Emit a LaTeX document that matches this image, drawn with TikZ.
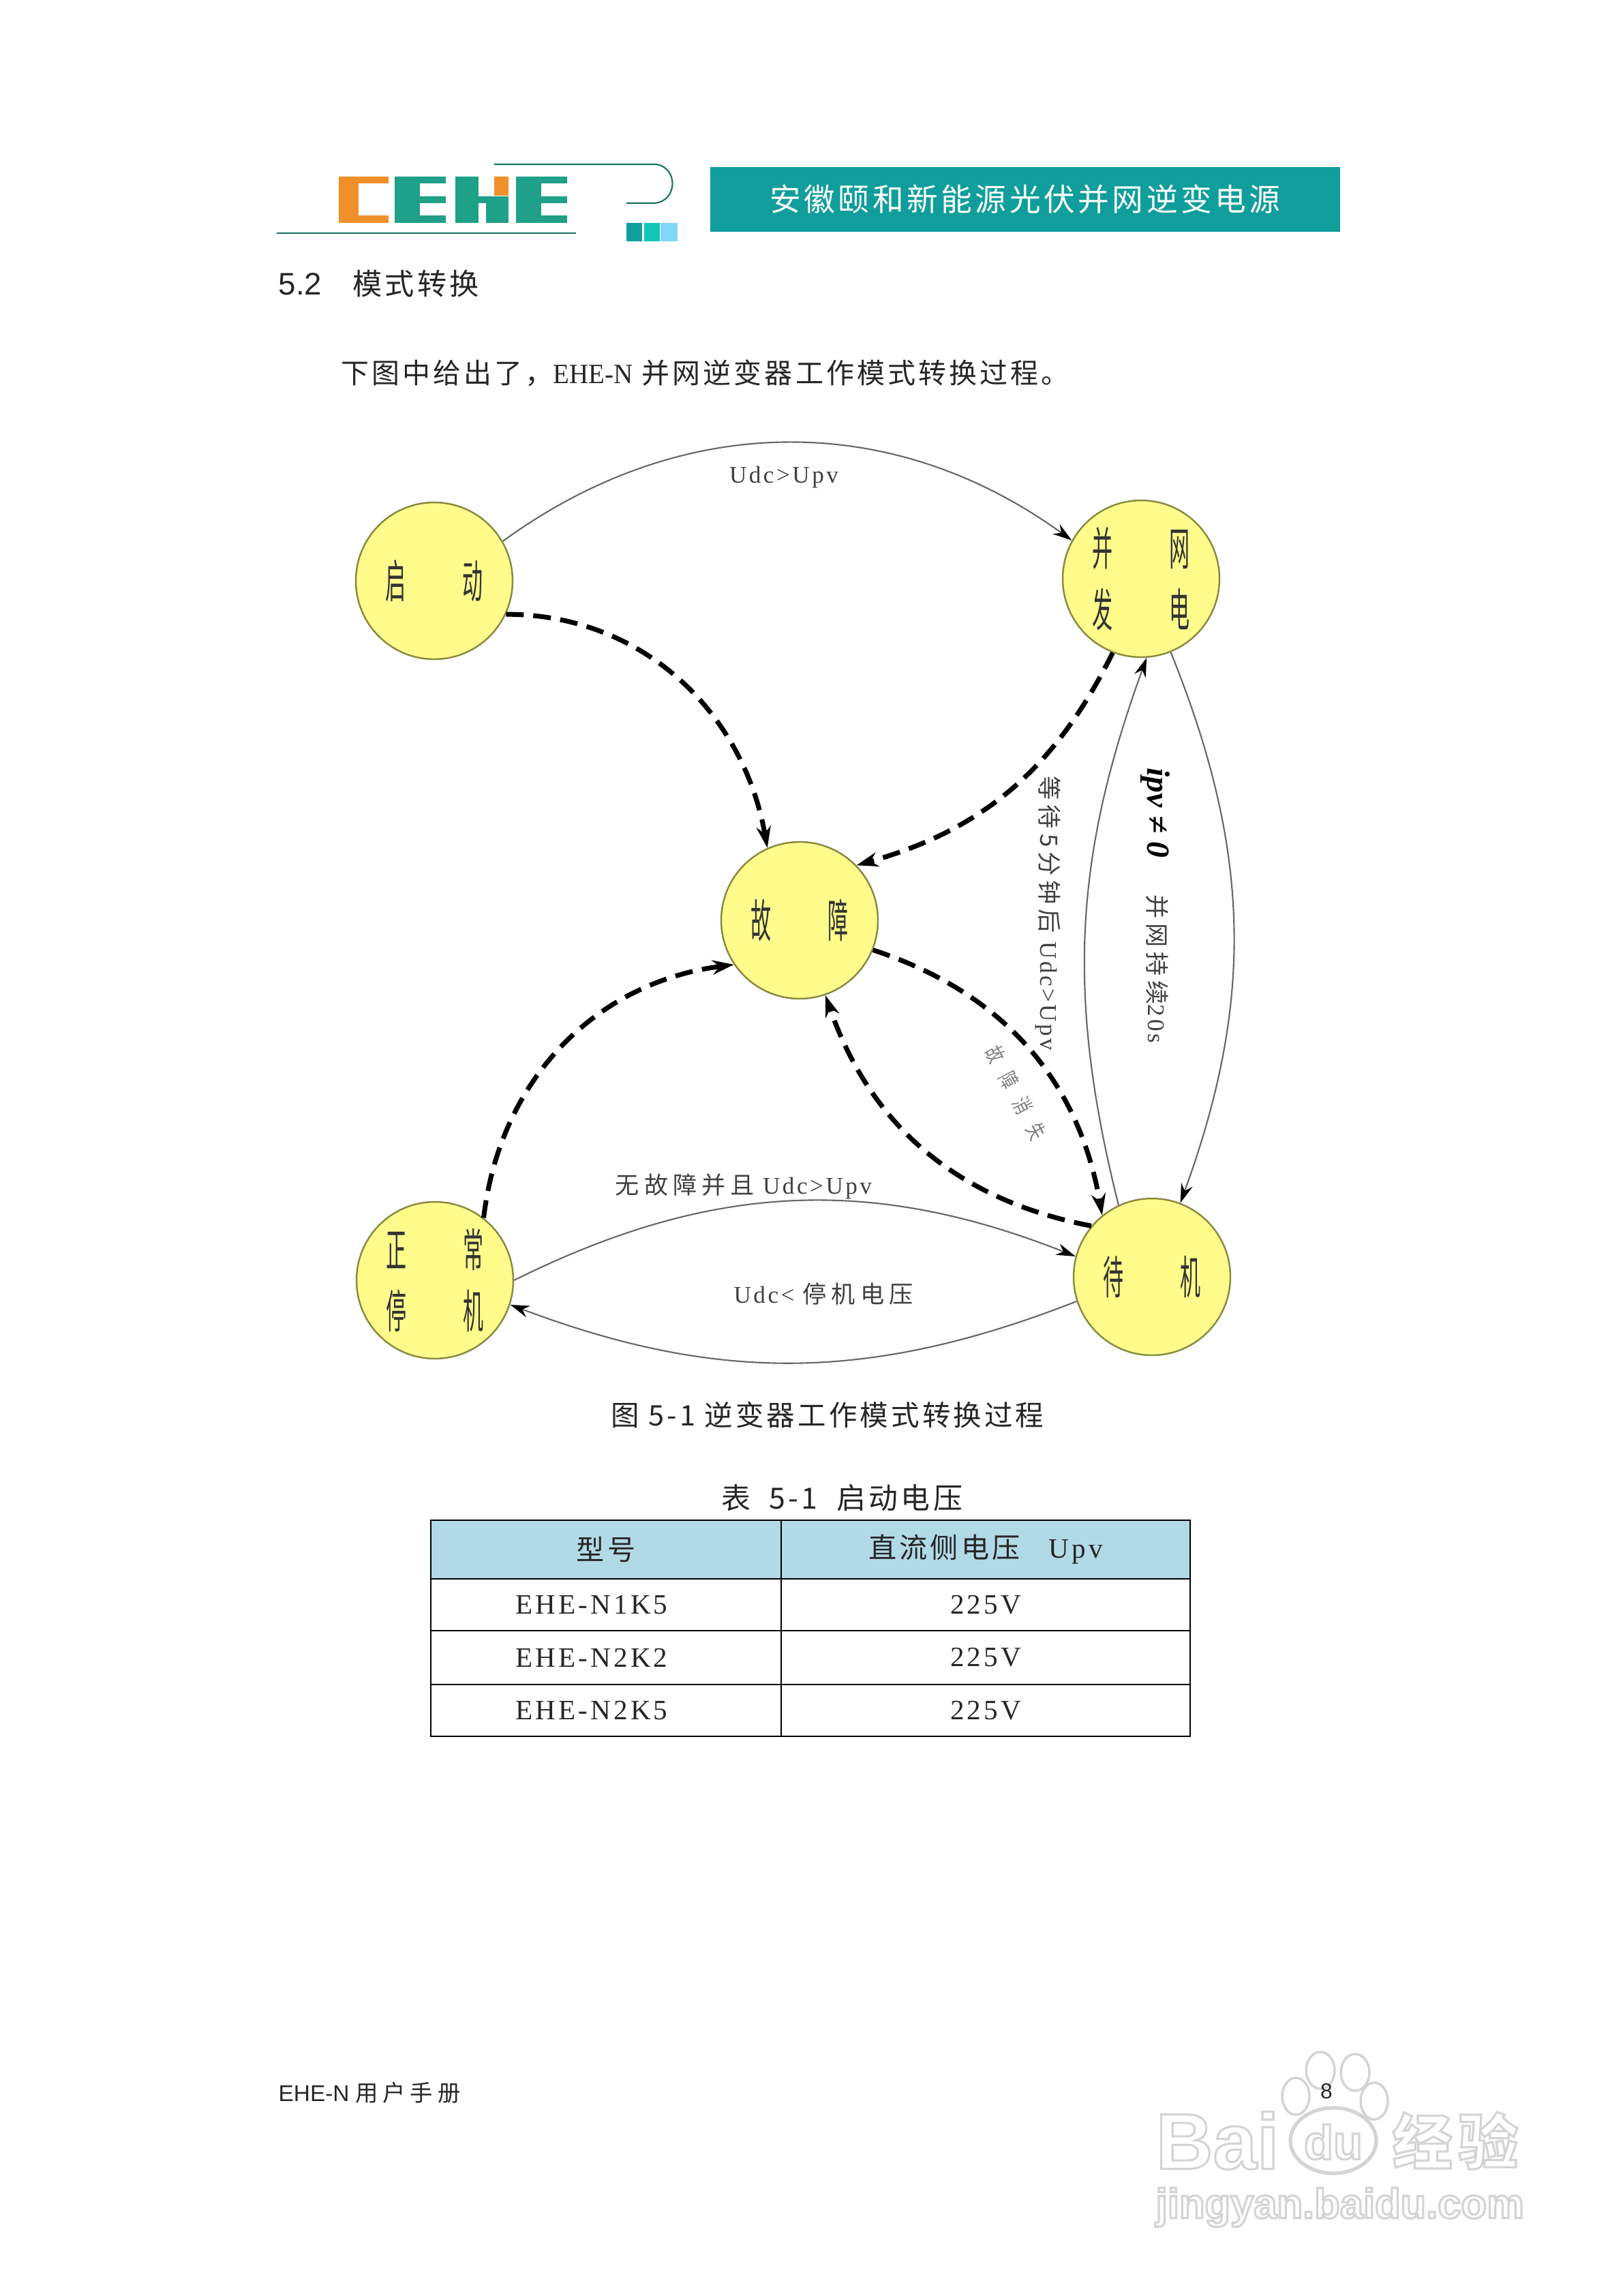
\documentclass[tikz,border=0pt]{standalone}
\usepackage{fontspec}
\usepackage{graphicx}
\usetikzlibrary{arrows.meta}
\setmainfont{Liberation Serif}
\setsansfont{Liberation Sans}
\newfontfamily\cjk[LetterSpace=10]{Noto Sans CJK SC}
\newfontfamily\cjkw[LetterSpace=20]{Noto Sans CJK SC}
\newfontfamily\lat[LetterSpace=10]{Liberation Serif}
\definecolor{bannerteal}{HTML}{0F9E9C}
\definecolor{logoorange}{HTML}{F0902A}
\definecolor{logoteal}{HTML}{1FA088}
\definecolor{statefill}{HTML}{FFFC8C}
\definecolor{stateedge}{HTML}{8A8A40}
\definecolor{headfill}{HTML}{B2D9E6}
\definecolor{markgray}{HTML}{D4D4D4}
\newcommand{\statetext}[2]{\scalebox{.45}[1]{\cjk #1\hspace{52pt}#2}}
\newcommand{\outlinetext}[1]{\special{pdf:literal direct 1 Tr 0.9 w}#1\special{pdf:literal direct 0 Tr}}
\begin{document}
\begin{tikzpicture}[
statenode/.style={circle, draw=stateedge, fill=statefill, line width=0.7pt, minimum size=23cm/10, inner sep=0pt, align=center, text=black!80, font=\fontsize{19}{25.6}\selectfont},
flowline/.style={draw=black!60, line width=0.6pt, -{Stealth[length=8pt,width=5pt,black]}},
faultline/.style={draw=black, line width=2pt, dash pattern=on 2.6mm off 1.4mm, -{Stealth[length=9pt,width=6pt]}},
flowtext/.style={inner sep=0pt, text=black!75, font=\fontsize{10}{10}\selectfont},
pagetext/.style={inner sep=0pt, text=black!85, font=\fontsize{11.8}{12}\selectfont},
cellnode/.style={rectangle, draw=black, line width=0.8pt, inner sep=0pt, text=black!85, font=\fontsize{11.7}{12}\selectfont},
marktext/.style={inner sep=0pt, text=markgray, font=\bfseries\sffamily},
]
\useasboundingbox (0,0) rectangle (23.81,-33.68);
% header
\fill[logoorange] (4.97,-2.59) rectangle (5.26,-3.27);
\fill[logoorange] (4.97,-2.59) rectangle (5.70,-2.69);
\fill[logoorange] (4.97,-3.16) rectangle (5.70,-3.27);
\fill[logoteal] (5.79,-2.59) rectangle (6.16,-3.27);
\fill[logoteal] (5.79,-2.59) rectangle (6.54,-2.69);
\fill[logoteal] (5.79,-2.88) rectangle (6.54,-2.98);
\fill[logoteal] (5.79,-3.16) rectangle (6.54,-3.27);
\fill[logoteal] (6.68,-2.59) rectangle (7.02,-3.27);
\fill[logoteal] (7.02,-2.88) rectangle (7.46,-2.98);
\fill[logoteal] (7.13,-2.98) rectangle (7.46,-3.27);
\fill[logoorange] (7.25,-2.59) rectangle (7.46,-2.87);
\fill[logoteal] (7.57,-2.59) rectangle (7.94,-3.27);
\fill[logoteal] (7.57,-2.59) rectangle (8.32,-2.69);
\fill[logoteal] (7.57,-2.88) rectangle (8.32,-2.98);
\fill[logoteal] (7.57,-3.16) rectangle (8.32,-3.27);
\draw[logoteal!70!black, line width=0.7pt] (4.06,-3.42) -- (8.45,-3.42);
\draw[logoteal!70!black, line width=0.6pt] (7.25,-2.41) -- (9.62,-2.41) .. controls (9.95,-2.45) and (9.95,-2.95) .. (9.60,-2.98) -- (9.19,-2.98);
\fill[bannerteal] (9.19,-3.27) rectangle (9.42,-3.54);
\fill[logoteal!60!cyan] (9.45,-3.27) rectangle (9.68,-3.54);
\fill[cyan!50] (9.69,-3.27) rectangle (9.94,-3.54);
\node[rectangle, fill=bannerteal, minimum width=9.24cm, minimum height=0.95cm, inner sep=0pt, text=white, font=\fontsize{13}{13}\selectfont] (banner) at (15.04,-2.925) {\cjk 安徽颐和新能源光伏并网逆变电源};
\node[pagetext, anchor=west, font=\fontsize{13}{13}\sffamily] (section) at (4.08,-4.16) {5.2\hspace{12.8pt}{\cjk\fontsize{12.3}{12.3}\selectfont 模式转换}};
\node[pagetext, anchor=west, font=\fontsize{11.65}{12}\selectfont] (intro) at (5.00,-5.47) {\cjk 下图中给出了，\rmfamily\scalebox{.95}[1]{EHE-N}\cjk\ 并网逆变器工作模式转换过程。};
% states
\node[statenode] (qidong) at (6.37,-8.52) {\statetext{启}{动}};
\node[statenode] (wang) at (16.74,-8.49) {\statetext{并}{网}\\\statetext{发}{电}};
\node[statenode] (guzhang) at (11.73,-13.50) {\statetext{故}{障}};
\node[statenode] (tingji) at (6.38,-18.78) {\statetext{正}{常}\\\statetext{停}{机}};
\node[statenode] (daiji) at (16.90,-18.73) {\statetext{待}{机}};
% transitions
\draw[flowline] (qidong.30) to[bend left=36] (wang.151);
\draw[faultline] (qidong.-25) to[out=0,in=100] (guzhang.114);
\draw[faultline] (wang.249) to[bend left=24] (guzhang.44);
\draw[faultline] (guzhang.-22) to[bend left=31] (daiji.129);
\draw[faultline] (daiji.140) to[bend left=30] (guzhang.-71);
\draw[faultline] (tingji.52) to[bend left=38] (guzhang.-146);
\draw[flowline] (tingji.0) to[bend left=24] (daiji.165);
\draw[flowline] (daiji.198) to[bend left=21] (tingji.-18);
\draw[flowline] (wang.-68) to[bend left=21] (daiji.69);
\draw[flowline] (daiji.115) to[bend left=17] (wang.-86);
% labels
\node[flowtext] (startlabel) at (11.50,-7.00) {\lat Udc>Upv};
\node[flowtext, rotate=-90] (waitlabel) at (15.38,-13.40) {\cjkw 等待5分钟后\lat\ Udc>Upv};
\node[flowtext, rotate=-90, text=black, font=\fontsize{13.5}{14}\bfseries\itshape] (currentlabel) at (16.95,-11.92) {ipv ≠ 0};
\node[flowtext, rotate=-90] (gridlabel) at (16.98,-14.21) {\cjkw 并网持续\lat 20s};
\node[flowtext, rotate=-62, text=black!50, font=\fontsize{9}{9}\selectfont] (clearlabel) at (14.90,-16.03) {\scalebox{.7}[1]{\cjk 故\hspace{8.4pt}障\hspace{8.4pt}消\hspace{8.4pt}失}};
\node[flowtext] (readylabel) at (10.91,-17.40) {\cjkw 无故障并且\lat\ Udc>Upv};
\node[flowtext] (stoplabel) at (12.08,-18.98) {\lat Udc<\ \cjkw 停机电压};
% caption and table
\node[pagetext] (figcaption) at (12.14,-20.76) {\cjk 图 5-1 逆变器工作模式转换过程};
\node[pagetext, font=\fontsize{12.2}{12.2}\selectfont] (tabcaption) at (12.35,-21.97) {\cjk 表 \ 5-1 \ 启动电压};
\node[cellnode, fill=headfill, minimum width=5.14cm, minimum height=0.86cm] (typehead) at (8.89,-22.73) {\cjk 型号};
\node[cellnode, fill=headfill, minimum width=6.00cm, minimum height=0.86cm] (volthead) at (14.46,-22.73) {\cjk 直流侧电压 \lat\ \ Upv};
\node[cellnode, minimum width=5.14cm, minimum height=0.76cm] (typea) at (8.89,-23.54) {\mbox{\lat EHE-N1K5\hspace{12pt}}};
\node[cellnode, minimum width=6.00cm, minimum height=0.76cm] (volta) at (14.46,-23.54) {\lat 225V};
\node[cellnode, minimum width=5.14cm, minimum height=0.79cm] (typeb) at (8.89,-24.315) {\mbox{\lat EHE-N2K2\hspace{12pt}}};
\node[cellnode, minimum width=6.00cm, minimum height=0.79cm] (voltb) at (14.46,-24.315) {\lat 225V};
\node[cellnode, minimum width=5.14cm, minimum height=0.76cm] (typec) at (8.89,-25.09) {\mbox{\lat EHE-N2K5\hspace{12pt}}};
\node[cellnode, minimum width=6.00cm, minimum height=0.76cm] (voltc) at (14.46,-25.09) {\lat 225V};
% footer and mark
\node[pagetext, anchor=west, font=\fontsize{9.5}{10}\sffamily] (footer) at (4.08,-30.70) {EHE-N\ {\cjkw 用户手册}};
\draw[markgray, line width=1pt] (19.37,-30.37) ellipse (0.21 and 0.27);
\draw[markgray, line width=1pt] (19.88,-30.40) ellipse (0.21 and 0.27);
\draw[markgray, line width=1pt] (19.01,-30.75) ellipse (0.20 and 0.27);
\draw[markgray, line width=1pt] (20.16,-30.82) ellipse (0.20 and 0.27);
\draw[markgray, line width=1.5pt] (19.56,-31.40) ellipse (0.63 and 0.48);
\node[marktext, font=\fontsize{33}{33}\bfseries\sffamily, anchor=west] (markbai) at (16.95,-31.40) {\outlinetext{Bai}};
\node[marktext, font=\fontsize{20}{20}\bfseries\sffamily] (markdu) at (19.56,-31.42) {\outlinetext{du}};
\node[marktext, font=\fontsize{25}{25}\selectfont, anchor=east] (markjy) at (22.28,-31.40) {\outlinetext{\cjk\bfseries 经验}};
\node[marktext, font=\fontsize{17.5}{17.5}\bfseries\sffamily, anchor=west] (markurl) at (16.95,-32.38) {\outlinetext{jingyan.baidu.com}};
\node[pagetext, font=\fontsize{9}{9}\sffamily] (pagenum) at (19.46,-30.68) {8};
\end{tikzpicture}
\end{document}
